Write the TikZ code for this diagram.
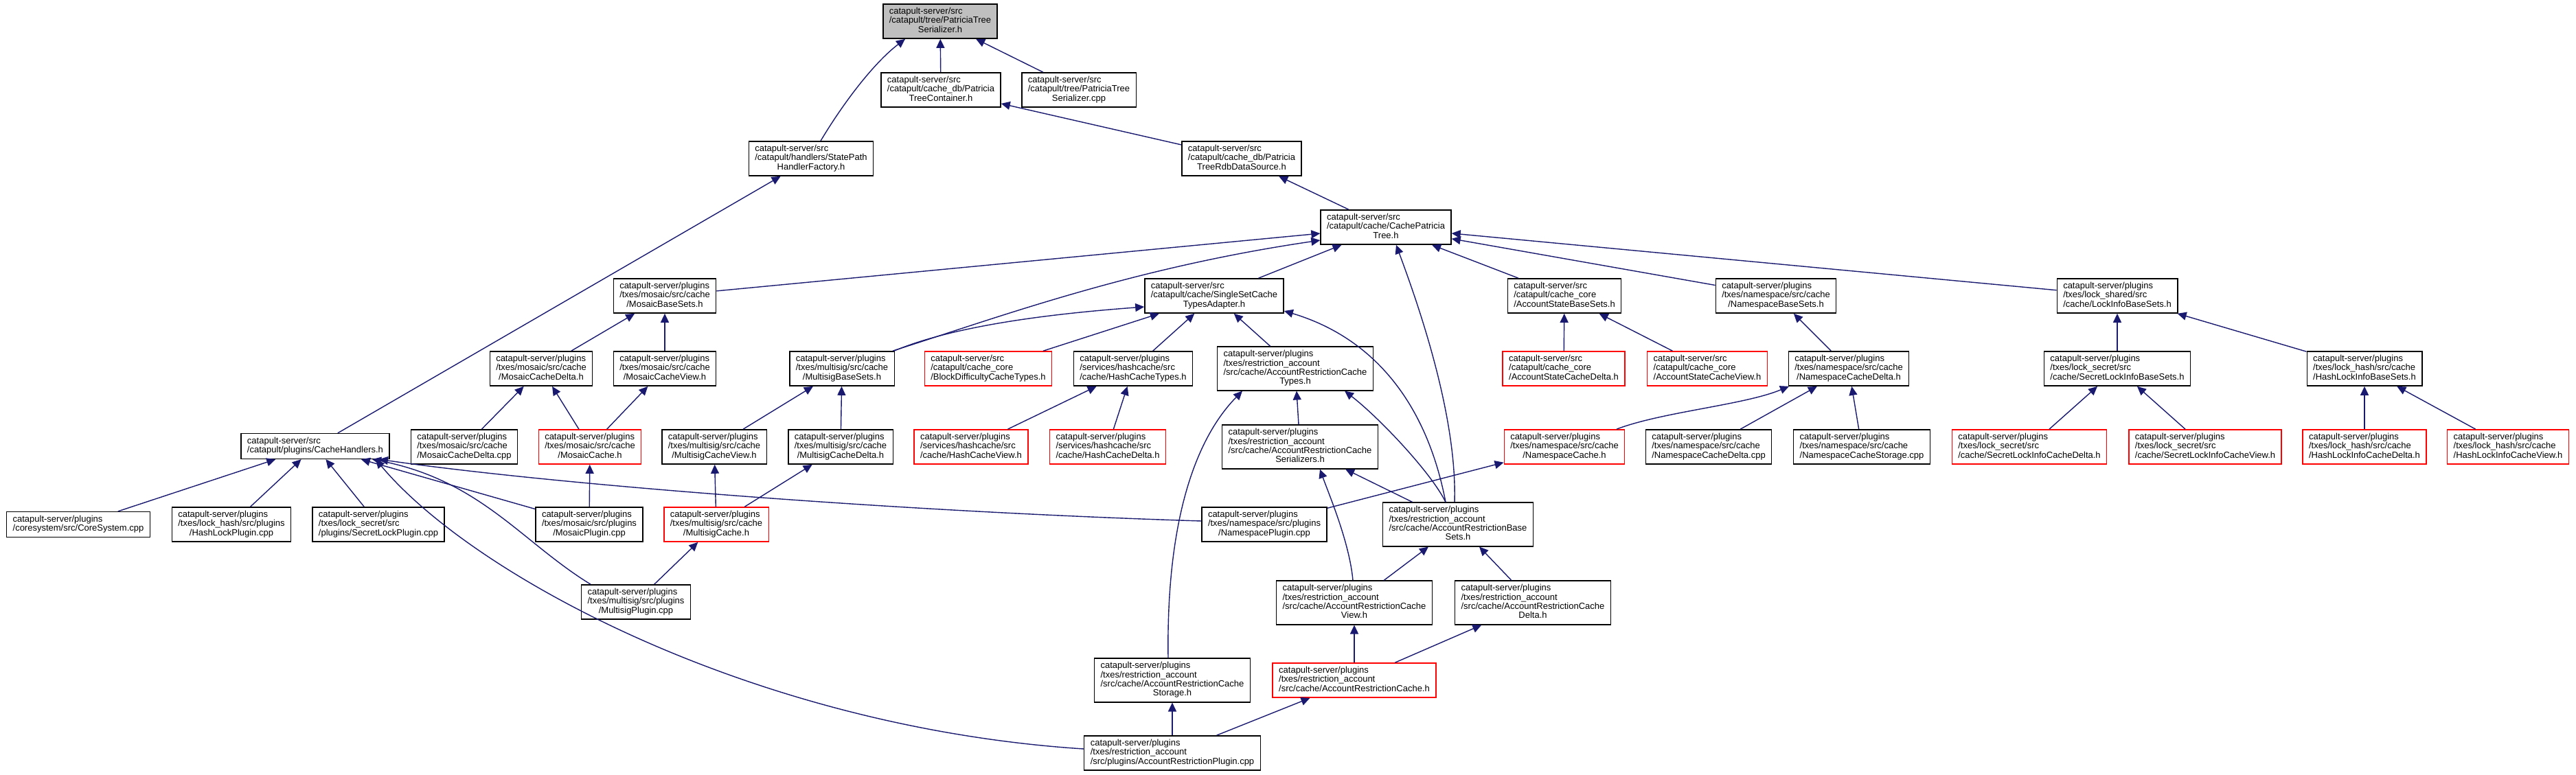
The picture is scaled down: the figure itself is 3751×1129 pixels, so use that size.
\documentclass[tikz,border=0pt]{standalone}
\usepackage{fontspec}
\setmainfont{Liberation Sans}
\usetikzlibrary{arrows.meta}
\definecolor{edgeblue}{HTML}{191970}
\newcommand{\flines}[1]{\begin{tabular}{@{}l@{}}#1\end{tabular}}
\newcommand{\lastl}[1]{\multicolumn{1}{@{}c@{}}{#1}}

\begin{document}
\begin{tikzpicture}[
  x=1pt, y=-1pt,
  file/.style={draw=black, fill=white, line width=1.4pt, inner xsep=9pt, inner ysep=5pt,
               font=\fontsize{13}{13.3}\selectfont},
  rootfile/.style={file, fill=black!25},
  redfile/.style={file, draw=red},
  dep/.style={-{Triangle[length=13pt, width=12pt]}, draw=edgeblue, line width=1.4pt}
]
  \useasboundingbox (0,0) rectangle (3751,1129);

  % top of the graph
  \node[rootfile] (root)   at (1369,31)  {\flines{catapult-server/src\\/catapult/tree/PatriciaTree\\\lastl{Serializer.h}}};
  \node[file]     (ptc)    at (1370,131) {\flines{catapult-server/src\\/catapult/cache\_db/Patricia\\\lastl{TreeContainer.h}}};
  \node[file]     (ptscpp) at (1571,131) {\flines{catapult-server/src\\/catapult/tree/PatriciaTree\\\lastl{Serializer.cpp}}};
  \node[file]     (sphf)   at (1181,231) {\flines{catapult-server/src\\/catapult/handlers/StatePath\\\lastl{HandlerFactory.h}}};
  \node[file]     (rdb)    at (1808,231) {\flines{catapult-server/src\\/catapult/cache\_db/Patricia\\\lastl{TreeRdbDataSource.h}}};
  \node[file]     (cpt)    at (2018,331) {\flines{catapult-server/src\\/catapult/cache/CachePatricia\\\lastl{Tree.h}}};

  % base sets
  \node[file] (mbs)   at (968,431)  {\flines{catapult-server/plugins\\/txes/mosaic/src/cache\\\lastl{/MosaicBaseSets.h}}};
  \node[file] (sscta) at (1768,431) {\flines{catapult-server/src\\/catapult/cache/SingleSetCache\\\lastl{TypesAdapter.h}}};
  \node[file] (asbs)  at (2278,431) {\flines{catapult-server/src\\/catapult/cache\_core\\\lastl{/AccountStateBaseSets.h}}};
  \node[file] (nbs)   at (2586,431) {\flines{catapult-server/plugins\\/txes/namespace/src/cache\\\lastl{/NamespaceBaseSets.h}}};
  \node[file] (libs)  at (3083,431) {\flines{catapult-server/plugins\\/txes/lock\_shared/src\\\lastl{/cache/LockInfoBaseSets.h}}};

  \node[file]    (mcd)   at (788,537)  {\flines{catapult-server/plugins\\/txes/mosaic/src/cache\\\lastl{/MosaicCacheDelta.h}}};
  \node[file]    (mcv)   at (968,537)  {\flines{catapult-server/plugins\\/txes/mosaic/src/cache\\\lastl{/MosaicCacheView.h}}};
  \node[file]    (msbs)  at (1226,537) {\flines{catapult-server/plugins\\/txes/multisig/src/cache\\\lastl{/MultisigBaseSets.h}}};
  \node[redfile] (bdct)  at (1439,537) {\flines{catapult-server/src\\/catapult/cache\_core\\\lastl{/BlockDifficultyCacheTypes.h}}};
  \node[file]    (hct)   at (1650,537) {\flines{catapult-server/plugins\\/services/hashcache/src\\\lastl{/cache/HashCacheTypes.h}}};
  \node[file]    (arct)  at (1886,537) {\flines{catapult-server/plugins\\/txes/restriction\_account\\/src/cache/AccountRestrictionCache\\\lastl{Types.h}}};
  \node[redfile] (ascd)  at (2277,537) {\flines{catapult-server/src\\/catapult/cache\_core\\\lastl{/AccountStateCacheDelta.h}}};
  \node[redfile] (ascv)  at (2486,537) {\flines{catapult-server/src\\/catapult/cache\_core\\\lastl{/AccountStateCacheView.h}}};
  \node[file]    (ncd)   at (2692,537) {\flines{catapult-server/plugins\\/txes/namespace/src/cache\\\lastl{/NamespaceCacheDelta.h}}};
  \node[file]    (slibs) at (3083,537) {\flines{catapult-server/plugins\\/txes/lock\_secret/src\\\lastl{/cache/SecretLockInfoBaseSets.h}}};
  \node[file]    (hlibs) at (3443,537) {\flines{catapult-server/plugins\\/txes/lock\_hash/src/cache\\\lastl{/HashLockInfoBaseSets.h}}};

  % caches
  \node[file]    (ch)     at (459,650)  {\flines{catapult-server/src\\\lastl{/catapult/plugins/CacheHandlers.h}}};
  \node[file]    (mcdcpp) at (676,651)  {\flines{catapult-server/plugins\\/txes/mosaic/src/cache\\\lastl{/MosaicCacheDelta.cpp}}};
  \node[redfile] (mc)     at (859,651)  {\flines{catapult-server/plugins\\/txes/mosaic/src/cache\\\lastl{/MosaicCache.h}}};
  \node[file]    (mscv)   at (1040,651) {\flines{catapult-server/plugins\\/txes/multisig/src/cache\\\lastl{/MultisigCacheView.h}}};
  \node[file]    (mscd)   at (1224,651) {\flines{catapult-server/plugins\\/txes/multisig/src/cache\\\lastl{/MultisigCacheDelta.h}}};
  \node[redfile] (hcv)    at (1414,651) {\flines{catapult-server/plugins\\/services/hashcache/src\\\lastl{/cache/HashCacheView.h}}};
  \node[redfile] (hcd)    at (1613,651) {\flines{catapult-server/plugins\\/services/hashcache/src\\\lastl{/cache/HashCacheDelta.h}}};
  \node[file]    (ars)    at (1893,651) {\flines{catapult-server/plugins\\/txes/restriction\_account\\/src/cache/AccountRestrictionCache\\\lastl{Serializers.h}}};
  \node[redfile] (nc)     at (2278,651) {\flines{catapult-server/plugins\\/txes/namespace/src/cache\\\lastl{/NamespaceCache.h}}};
  \node[file]    (ncdcpp) at (2488,651) {\flines{catapult-server/plugins\\/txes/namespace/src/cache\\\lastl{/NamespaceCacheDelta.cpp}}};
  \node[file]    (ncs)    at (2711,651) {\flines{catapult-server/plugins\\/txes/namespace/src/cache\\\lastl{/NamespaceCacheStorage.cpp}}};
  \node[redfile] (slicd)  at (2955,651) {\flines{catapult-server/plugins\\/txes/lock\_secret/src\\\lastl{/cache/SecretLockInfoCacheDelta.h}}};
  \node[redfile] (slicv)  at (3211,651) {\flines{catapult-server/plugins\\/txes/lock\_secret/src\\\lastl{/cache/SecretLockInfoCacheView.h}}};
  \node[redfile] (hlicd)  at (3443,651) {\flines{catapult-server/plugins\\/txes/lock\_hash/src/cache\\\lastl{/HashLockInfoCacheDelta.h}}};
  \node[redfile] (hlicv)  at (3652,651) {\flines{catapult-server/plugins\\/txes/lock\_hash/src/cache\\\lastl{/HashLockInfoCacheView.h}}};

  % plugins
  \node[file]    (cs)   at (114,764)  {\flines{catapult-server/plugins\\\lastl{/coresystem/src/CoreSystem.cpp}}};
  \node[file]    (hlp)  at (337,764)  {\flines{catapult-server/plugins\\/txes/lock\_hash/src/plugins\\\lastl{/HashLockPlugin.cpp}}};
  \node[file]    (slp)  at (551,764)  {\flines{catapult-server/plugins\\/txes/lock\_secret/src\\\lastl{/plugins/SecretLockPlugin.cpp}}};
  \node[file]    (mp)   at (858,764)  {\flines{catapult-server/plugins\\/txes/mosaic/src/plugins\\\lastl{/MosaicPlugin.cpp}}};
  \node[redfile] (msc)  at (1043,764) {\flines{catapult-server/plugins\\/txes/multisig/src/cache\\\lastl{/MultisigCache.h}}};
  \node[file]    (np)   at (1841,764) {\flines{catapult-server/plugins\\/txes/namespace/src/plugins\\\lastl{/NamespacePlugin.cpp}}};
  \node[file]    (arbs) at (2123,764) {\flines{catapult-server/plugins\\/txes/restriction\_account\\/src/cache/AccountRestrictionBase\\\lastl{Sets.h}}};

  \node[file]    (msp)  at (926,877)   {\flines{catapult-server/plugins\\/txes/multisig/src/plugins\\\lastl{/MultisigPlugin.cpp}}};
  \node[file]    (arcv) at (1972,878)  {\flines{catapult-server/plugins\\/txes/restriction\_account\\/src/cache/AccountRestrictionCache\\\lastl{View.h}}};
  \node[file]    (arcd) at (2232,878)  {\flines{catapult-server/plugins\\/txes/restriction\_account\\/src/cache/AccountRestrictionCache\\\lastl{Delta.h}}};
  \node[file]    (arcs) at (1707,991)  {\flines{catapult-server/plugins\\/txes/restriction\_account\\/src/cache/AccountRestrictionCache\\\lastl{Storage.h}}};
  \node[redfile] (arc)  at (1972,991)  {\flines{catapult-server/plugins\\/txes/restriction\_account\\\lastl{/src/cache/AccountRestrictionCache.h}}};
  \node[file]    (arp)  at (1707,1097) {\flines{catapult-server/plugins\\/txes/restriction\_account\\\lastl{/src/plugins/AccountRestrictionPlugin.cpp}}};

  % includes
  \draw[dep] (ptc) -- (root);
  \draw[dep] (ptscpp) -- (root);
  \draw[dep] ([xshift=14pt]sphf.north) .. controls (1228,150) and (1272,92) .. ([xshift=-51pt]root.south);
  \draw[dep] (rdb) -- (ptc);
  \draw[dep] (cpt) -- (rdb);
  \draw[dep] (ch) -- (sphf);

  \draw[dep] (mbs) -- (cpt);
  \draw[dep] ([xshift=-3pt]msbs.north east) .. controls (1460,460) and (1650,390) .. ([yshift=-19pt]cpt.west);
  \draw[dep] (sscta) -- (cpt);
  \draw[dep] ([xshift=-5pt]arbs.north) .. controls (2122,600) and (2060,430) .. ([xshift=15pt]cpt.south);
  \draw[dep] (asbs) -- (cpt);
  \draw[dep] (nbs) -- (cpt);
  \draw[dep] (libs) -- (cpt);

  \draw[dep] ([xshift=-1pt]msbs.north east) .. controls (1400,470) and (1560,455) .. ([yshift=-16pt]sscta.west);
  \draw[dep] (bdct) -- (sscta);
  \draw[dep] (hct) -- (sscta);
  \draw[dep] (arct) -- (sscta);
  \draw[dep] ([xshift=-18pt]arbs.north) .. controls (2080,600) and (2010,495) .. ([yshift=-22pt]sscta.east);

  \draw[dep] (mcd) -- (mbs);
  \draw[dep] (mcv) -- (mbs);
  \draw[dep] (mcdcpp) -- (mcd);
  \draw[dep] (mc) -- (mcd);
  \draw[dep] (mc) -- (mcv);
  \draw[dep] (mp) -- (mc);

  \draw[dep] (mscv) -- (msbs);
  \draw[dep] (mscd) -- (msbs);
  \draw[dep] (msc) -- (mscv);
  \draw[dep] (msc) -- (mscd);
  \draw[dep] (msp) -- (msc);

  \draw[dep] (hcv) -- (hct);
  \draw[dep] (hcd) -- (hct);

  \draw[dep] (ars) -- (arct);
  \draw[dep] ([xshift=-6pt]arcs.north) .. controls (1698,760) and (1740,640) .. ([xshift=-77pt]arct.south);
  \draw[dep] ([xshift=-18pt]arbs.north) .. controls (2085,690) and (2010,610) .. ([xshift=72pt]arct.south);
  \draw[dep] (arbs) -- (ars);
  \draw[dep] ([xshift=-2pt]arcv.north) .. controls (1965,790) and (1935,720) .. ([xshift=29pt]ars.south);
  \draw[dep] (arcv) -- (arbs);
  \draw[dep] (arcd) -- (arbs);
  \draw[dep] (arc) -- (arcv);
  \draw[dep] (arc) -- (arcd);
  \draw[dep] (arp) -- (arc);
  \draw[dep] (arp) -- (arcs);

  \draw[dep] (ascd) -- (asbs);
  \draw[dep] (ascv) -- (asbs);
  \draw[dep] (ncd) -- (nbs);
  \draw[dep] ([xshift=76pt]nc.north) .. controls (2420,600) and (2540,590) .. ([xshift=-87pt]ncd.south);
  \draw[dep] (ncdcpp) -- (ncd);
  \draw[dep] (ncs) -- (ncd);
  \draw[dep] (np) -- (nc);

  \draw[dep] (slibs) -- (libs);
  \draw[dep] (hlibs) -- (libs);
  \draw[dep] (slicd) -- (slibs);
  \draw[dep] (slicv) -- (slibs);
  \draw[dep] (hlicd) -- (hlibs);
  \draw[dep] (hlicv) -- (hlibs);

  % into CacheHandlers.h
  \draw[dep] (cs) -- (ch);
  \draw[dep] (hlp) -- (ch);
  \draw[dep] (slp) -- (ch);
  \draw[dep] (mp) -- (ch);
  \draw[dep] ([xshift=-66pt]msp.north) .. controls (760,790) and (700,700) .. ([xshift=83pt]ch.south);
  \draw[dep] ([yshift=6pt]arp.west) .. controls (1100,1060) and (690,840) .. ([xshift=88pt]ch.south);
  \draw[dep] ([yshift=5pt]np.west) .. controls (1300,745) and (800,705) .. ([xshift=93pt]ch.south);
\end{tikzpicture}
\end{document}
